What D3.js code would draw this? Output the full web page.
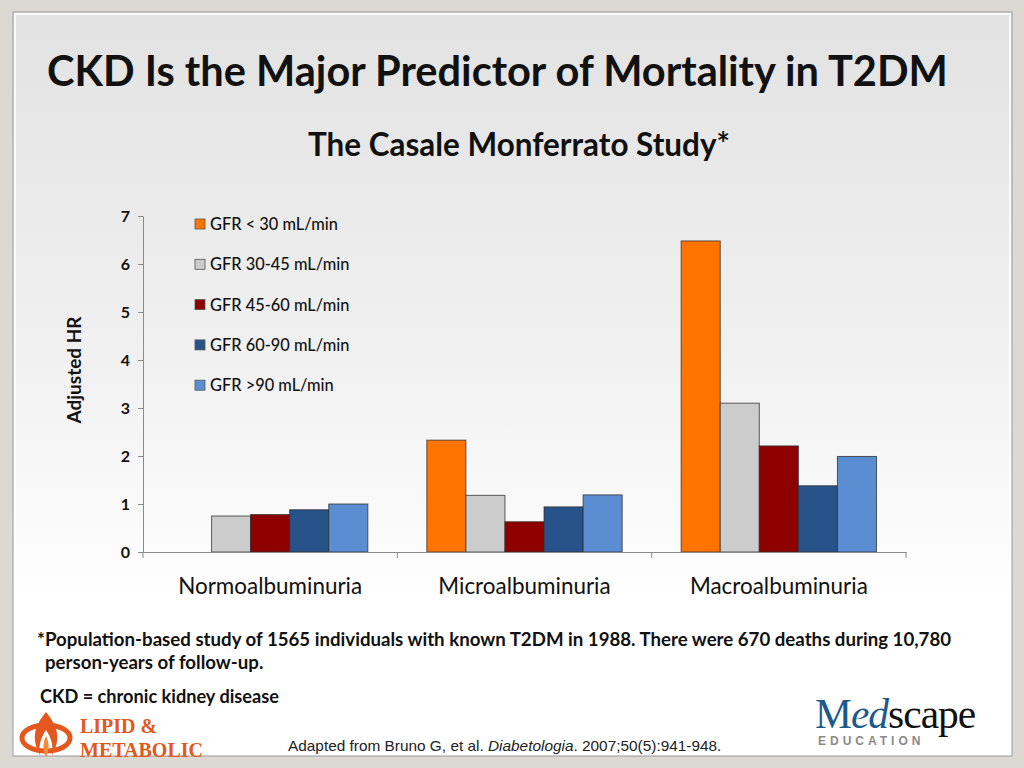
<!DOCTYPE html>
<html><head><meta charset="utf-8">
<script src="https://cdn.jsdelivr.net/npm/d3@7"></script>
<style>html,body{margin:0;padding:0;background:#dcd9d3;}svg{display:block;}</style>
</head><body>
<svg id="c" width="1024" height="768"></svg>
<script>
const categories = ["Normoalbuminuria", "Microalbuminuria", "Macroalbuminuria"];
const seriesNames = ["GFR < 30 mL/min", "GFR 30-45 mL/min", "GFR 45-60 mL/min", "GFR 60-90 mL/min", "GFR >90 mL/min"];
const seriesColors = ["#ff7300", "#cccccc", "#8e0000", "#28528a", "#5a8dd1"];
const gfrLt30 = [null, 2.33, 6.48];
const gfr30_45 = [0.75, 1.18, 3.10];
const gfr45_60 = [0.78, 0.63, 2.21];
const gfr60_90 = [0.88, 0.94, 1.38];
const gfrGt90 = [1.00, 1.19, 1.99];
const yTicks = [0, 1, 2, 3, 4, 5, 6, 7];

const seriesValues = [gfrLt30, gfr30_45, gfr45_60, gfr60_90, gfrGt90];
const FONT = "Lato, 'Open Sans', sans-serif";
const svg = d3.select("#c");

// slide background
const defs = svg.append("defs");
const g1 = defs.append("linearGradient").attr("id","bg").attr("x1",0).attr("y1",0).attr("x2",0).attr("y2",1);
g1.append("stop").attr("offset","0").attr("stop-color","#e2e2e2");
g1.append("stop").attr("offset","0.45").attr("stop-color","#f0f0f0");
g1.append("stop").attr("offset","0.8").attr("stop-color","#ffffff");
g1.append("stop").attr("offset","1").attr("stop-color","#ffffff");
svg.append("rect").attr("x",0).attr("y",0).attr("width",1024).attr("height",768).attr("fill","#dcd9d3");
svg.append("rect").attr("x",13).attr("y",12).attr("width",999).attr("height",744).attr("fill","url(#bg)")
  .attr("stroke","#9a9a9a").attr("stroke-width",1);
svg.append("rect").attr("x",15).attr("y",14).attr("width",995).attr("height",740).attr("fill","none")
  .attr("stroke","#ffffff").attr("stroke-width",2).attr("opacity",0.8);

function fit(sel, targetW) {
  const w = sel.node().getComputedTextLength();
  const fs = parseFloat(sel.attr("font-size"));
  sel.attr("font-size", fs * targetW / w);
  return sel;
}

// titles
fit(svg.append("text").attr("x",47).attr("y",86).attr("font-family",FONT).attr("font-weight",700)
  .attr("font-size",40).attr("fill","#111").text("CKD Is the Major Predictor of Mortality in T2DM"), 901);
fit(svg.append("text").attr("x",308).attr("y",156).attr("font-family",FONT).attr("font-weight",700)
  .attr("font-size",26).attr("fill","#111").text("The Casale Monferrato Study*"), 422);

// chart
const x0 = 143, x1 = 906, yTop = 216, yBot = 552;
const x = d3.scaleBand().domain(categories).range([x0, x1]).paddingInner(0).paddingOuter(0);
const xs = d3.scaleBand().domain(d3.range(seriesNames.length)).range([0, x.bandwidth()]).paddingOuter(0.755).paddingInner(0);
const y = d3.scaleLinear().domain([0, 7]).range([yBot, yTop]);

const bars = [];
categories.forEach((c, ci) => seriesValues.forEach((s, si) => { if (s[ci] != null) bars.push({c, si, v: s[ci]}); }));
svg.append("g").selectAll("rect").data(bars).join("rect")
  .attr("x", d => x(d.c) + xs(d.si))
  .attr("width", xs.bandwidth())
  .attr("y", d => y(d.v))
  .attr("height", d => y(0) - y(d.v))
  .attr("fill", d => seriesColors[d.si])
  .attr("stroke", "#2b2b2b").attr("stroke-opacity",0.75).attr("stroke-width", 1);

// y axis
const ya = svg.append("g").attr("transform", `translate(${x0},0)`)
  .call(d3.axisLeft(y).tickValues(yTicks).tickSize(5).tickSizeOuter(0).tickFormat(d3.format("d")));
ya.select(".domain").attr("stroke","#8a8a8a");
ya.selectAll(".tick line").attr("stroke","#8a8a8a");
ya.selectAll(".tick text").attr("font-family",FONT).attr("font-weight",700).attr("font-size",16)
  .attr("fill","#111").attr("x",-13);

// x axis
const xa = svg.append("g").attr("transform", `translate(0,${yBot})`)
  .call(d3.axisBottom(x).tickSize(0).tickSizeOuter(0));
xa.select(".domain").attr("stroke","#8a8a8a");
const xt = xa.selectAll(".tick text").attr("font-family",FONT).attr("font-size",18).attr("fill","#111").attr("dy",0).attr("y",42);
{
  const w0 = xt.nodes()[0].getComputedTextLength();
  xt.attr("font-size", 18 * 184 / w0);
}
svg.append("g").selectAll("line").data([x0, ...categories.map(c => x(c) + x.bandwidth())]).join("line")
  .attr("x1", d => d).attr("x2", d => d).attr("y1", yBot).attr("y2", yBot + 6).attr("stroke","#8a8a8a");

// y label
svg.append("text").attr("transform","translate(81,370) rotate(-90)").attr("text-anchor","middle")
  .attr("font-family",FONT).attr("font-weight",700).attr("font-size",19).attr("fill","#111").text("Adjusted HR");

// legend
const lg = svg.append("g").selectAll("g").data(seriesNames).join("g")
  .attr("transform", (d, i) => `translate(195,${224 + i * 40.3})`);
lg.append("rect").attr("x",0).attr("y",-5).attr("width",10).attr("height",10)
  .attr("fill",(d,i)=>seriesColors[i]).attr("stroke","#555").attr("stroke-width",0.8);
const lt = lg.append("text").attr("x",15).attr("y",6).attr("font-family",FONT).attr("font-size",15).attr("font-weight",500).attr("fill","#111").text(d => d);
{
  const w0 = lt.nodes()[0].getComputedTextLength();
  lt.attr("font-size", 15 * 128 / w0);
}

// footnotes
const f1 = fit(svg.append("text").attr("x",37).attr("y",646).attr("font-family",FONT).attr("font-weight",700)
  .attr("font-size",17).attr("fill","#111")
  .text("*Population-based study of 1565 individuals with known T2DM in 1988. There were 670 deaths during 10,780"), 915);
svg.append("text").attr("x",45).attr("y",669).attr("font-family",FONT).attr("font-weight",700)
  .attr("font-size",f1.attr("font-size")).attr("fill","#111").text("person-years of follow-up.");
fit(svg.append("text").attr("x",40).attr("y",703).attr("font-family",FONT).attr("font-weight",700)
  .attr("font-size",15).attr("fill","#111").text("CKD = chronic kidney disease"), 239);

const src = svg.append("text").attr("x",288).attr("y",751).attr("font-family","'Liberation Sans', Arial, sans-serif")
  .attr("font-size",13).attr("fill","#222");
src.append("tspan").text("Adapted from Bruno G, et al. ");
src.append("tspan").attr("font-style","italic").text("Diabetologia");
src.append("tspan").text(". 2007;50(5):941-948.");
fit(src, 434);

// Lipid & Metabolic logo
const lm = svg.append("g");
lm.append("ellipse").attr("cx",46).attr("cy",738).attr("rx",24).attr("ry",13)
  .attr("fill","none").attr("stroke","#e2581e").attr("stroke-width",5);
lm.append("path").attr("d","M46,712 C38,722 32,732 36,746 L40,756 C38,744 42,736 46,730 C50,736 54,744 52,756 L56,746 C60,732 54,722 46,712 Z")
  .attr("fill","#e2581e");
lm.append("path").attr("d","M46,736 C43,742 42,750 46,757 C50,750 49,742 46,736 Z").attr("fill","#f08a3c");
lm.append("text").attr("x",80).attr("y",733).attr("font-family","'Liberation Serif', serif").attr("font-weight",700)
  .attr("font-size",20).attr("fill","#e2581e").text("LIPID &");
lm.append("text").attr("x",80).attr("y",757).attr("font-family","'Liberation Serif', serif").attr("font-weight",700)
  .attr("font-size",20).attr("fill","#e2581e").text("METABOLIC");
svg.append("rect").attr("x",0).attr("y",757).attr("width",1024).attr("height",11).attr("fill","#dcd9d3");

// Medscape logo
const ms = svg.append("text").attr("x",815).attr("y",728).attr("font-family","'Liberation Serif', 'DejaVu Serif', serif")
  .attr("font-size",40).attr("letter-spacing",-1);
ms.append("tspan").attr("fill","#1d5a8c").text("M");
ms.append("tspan").attr("fill","#1d5a8c").attr("font-style","italic").text("ed");
ms.append("tspan").attr("fill","#111").text("scape");
fit(ms, 160);
svg.append("text").attr("x",818).attr("y",745).attr("font-family","'Liberation Sans', Arial, sans-serif")
  .attr("font-weight",700).attr("font-size",12).attr("letter-spacing",4).attr("fill","#8a8a8a").text("EDUCATION");
</script>
</body></html>
